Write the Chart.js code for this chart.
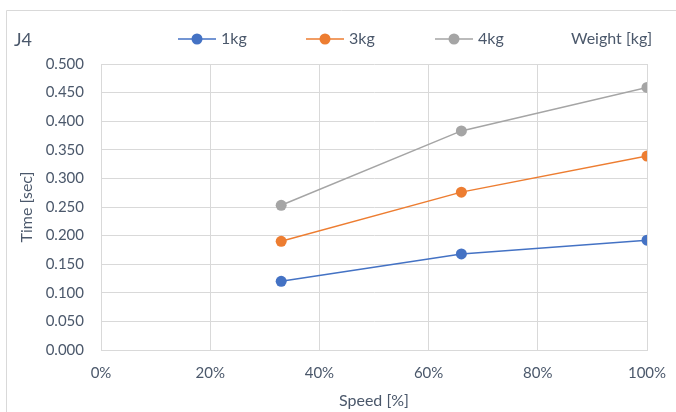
<!DOCTYPE html>
<html>
<head>
<meta charset="utf-8">
<script src="https://cdn.jsdelivr.net/npm/chart.js@4.4.1/dist/chart.umd.min.js"></script>
<style>
html,body{margin:0;padding:0;background:#fff;}
#wrap{width:676px;height:412px;position:relative;}
</style>
</head>
<body>
<div id="wrap"><canvas id="c" width="676" height="412"></canvas></div>
<script>
const speeds = [33, 66, 100];
const seriesNames = ['1kg', '3kg', '4kg'];
const time1kg = [0.120, 0.168, 0.192];
const time3kg = [0.190, 0.276, 0.339];
const time4kg = [0.253, 0.383, 0.459];
const colors = ['#4472C4', '#ED7D31', '#A5A5A5'];
const chartTitle = 'J4';
const legendTitle = 'Weight [kg]';
const xTitle = 'Speed [%]';
const yTitle = 'Time [sec]';

const FONT = 'Lato, "Liberation Sans", sans-serif';
const TXT = '#4B586B';
const GRID = '#D9D9D9';

function pts(vals){ return speeds.map((s,i)=>({x:s,y:vals[i]})); }

const allSeries = [time1kg, time3kg, time4kg];
const datasets = allSeries.map((v,i)=>({
  label: seriesNames[i],
  data: pts(v),
  borderColor: colors[i],
  backgroundColor: colors[i],
  borderWidth: 1.5,
  pointRadius: 5.5,
  pointHoverRadius: 5.5,
  pointBorderWidth: 0,
  tension: 0
}));

const headerPlugin = {
  id: 'header',
  afterDraw(chart){
    const ctx = chart.ctx;
    ctx.save();
    ctx.strokeStyle = GRID;
    ctx.lineWidth = 1;
    ctx.beginPath();
    ctx.moveTo(6.5, 420);
    ctx.lineTo(6.5, 10.5);
    ctx.lineTo(680, 10.5);
    ctx.stroke();
    ctx.fillStyle = TXT;
    ctx.textBaseline = 'middle';
    ctx.textAlign = 'left';
    ctx.font = '18px ' + FONT;
    ctx.fillText(chartTitle, 14, 40);
    ctx.font = '16px ' + FONT;
    const starts = [178, 306, 435];
    const y = 39;
    seriesNames.forEach((n,i)=>{
      const x0 = starts[i];
      ctx.strokeStyle = colors[i];
      ctx.lineWidth = 1.5;
      ctx.beginPath();
      ctx.moveTo(x0, y); ctx.lineTo(x0+38, y); ctx.stroke();
      ctx.fillStyle = colors[i];
      ctx.beginPath(); ctx.arc(x0+19, y, 5.5, 0, Math.PI*2); ctx.fill();
      ctx.fillStyle = TXT;
      ctx.fillText(n, x0+43, y);
    });
    ctx.fillText(legendTitle, 571, y);
    ctx.restore();
  }
};

new Chart(document.getElementById('c'), {
  type: 'line',
  data: { datasets },
  plugins: [headerPlugin],
  options: {
    responsive: false,
    animation: false,
    layout: { padding: { left: 0, right: 29, top: 64, bottom: 0 } },
    plugins: { legend: { display: false }, title: { display: false }, tooltip: { enabled: false } },
    scales: {
      x: {
        type: 'linear', min: 0, max: 100,
        afterFit(s){ s.height = 62; s.paddingRight = 0; s.paddingLeft = 0; },
        grid: { color: GRID, drawTicks: false },
        border: { color: GRID },
        ticks: { stepSize: 20, padding: 14, color: TXT, font: { family: FONT, size: 15 }, callback: v => v + '%' },
        title: { display: true, text: xTitle, color: TXT, font: { family: FONT, size: 16 }, padding: { top: 0, bottom: 2 } }
      },
      y: {
        min: 0, max: 0.5,
        afterFit(s){ s.width = 101; },
        grid: { color: GRID, drawTicks: false },
        border: { color: GRID },
        ticks: { stepSize: 0.05, padding: 17, color: TXT, font: { family: FONT, size: 15 }, callback: v => v.toFixed(3) },
        title: { display: true, text: yTitle, color: TXT, font: { family: FONT, size: 16 }, padding: { top: 17.4, bottom: 0 } }
      }
    }
  }
});
</script>
</body>
</html>
